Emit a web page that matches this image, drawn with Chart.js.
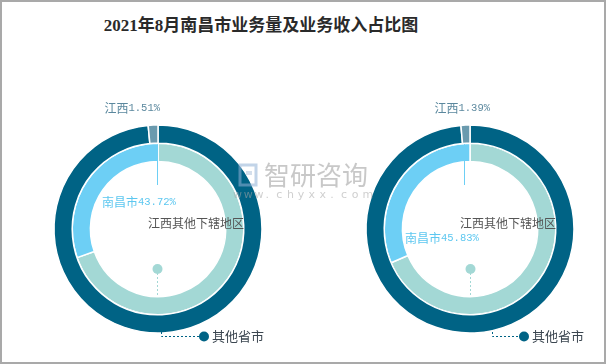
<!DOCTYPE html>
<html>
<head>
<meta charset="utf-8">
<script src="https://cdn.jsdelivr.net/npm/chart.js@4.4.1/dist/chart.umd.min.js"></script>
<style>
    body { margin: 0; background: #fff; }
    #wrap { position: relative; width: 606px; height: 364px; overflow: hidden; background: #fff; }
    #title {
        position: absolute; left: 0; top: 11px; width: 522px; text-align: center;
        font-family: "Liberation Serif", "Noto Sans CJK SC", serif; font-size: 17px; font-weight: bold; color: #2a2a2a;
    }
    canvas { position: absolute; left: 0; top: 0; }
    #frame { position: absolute; left: 0; top: 0; width: 602px; height: 360px; border: 2px solid #a9a9a9; pointer-events: none; }
</style>
</head>
<body>
<div id="wrap">
    <div id="title">2021年8月南昌市业务量及业务收入占比图</div>
    <canvas id="leftChart" width="606" height="364"></canvas>
    <canvas id="rightChart" width="606" height="364"></canvas>
    <div id="frame"></div>
</div>
<script>
// data
const outerLabels = ["其他省市", "江西"];
const innerLabels = ["江西其他下辖地区", "南昌市"];
const outerLeft = [98.49, 1.51];
const innerLeft = [100, 43.72];
const outerRight = [98.61, 1.39];
const innerRight = [100, 45.83];

const outerColors = ["#006385", "#6a9aae"];
const innerColors = ["#a3d8d5", "#6dcff5"];

// label offsets from the donut centre, per chart
const layoutLeft = { jx: 2, nx: -56, ny: -27, lx: -1, nlx: -1, ox: 46, ovx: 3 };
const layoutRight = { jx: 20, nx: -65, ny: 9, lx: 0, nlx: -6, ox: 54, ovx: 22 };

function mixedText(ctx, cjk, num, x, y, align, color) {
    ctx.font = '12px "Noto Sans CJK SC"';
    const w1 = ctx.measureText(cjk).width;
    ctx.font = '10.5px "Liberation Mono"';
    const w2 = ctx.measureText(num).width;
    let start = align === "right" ? x - w1 - w2 : x;
    ctx.fillStyle = color;
    ctx.textBaseline = "middle";
    ctx.textAlign = "left";
    ctx.font = '12px "Noto Sans CJK SC"';
    ctx.fillText(cjk, start, y);
    ctx.font = '10.5px "Liberation Mono"';
    ctx.fillText(num, start + w1, y + 0.5);
}

function dot(ctx, x, y, r, color) {
    ctx.beginPath();
    ctx.arc(x, y, r, 0, Math.PI * 2);
    ctx.fillStyle = color;
    ctx.fill();
}

const ringLabels = {
    id: "ringLabels",
    afterDatasetsDraw(chart, args, opts) {
        const ctx = chart.ctx;
        const L = opts.layout;
        const outer = chart.getDatasetMeta(0).data;
        const inner = chart.getDatasetMeta(1).data;
        const cx = outer[0].x, cy = outer[0].y;
        const rOut = outer[0].outerRadius;
        const rInIn = inner[0].innerRadius;
        const rInOut = inner[0].outerRadius;
        const outerData = chart.data.datasets[0].data;
        const innerData = chart.data.datasets[1].data;
        ctx.save();

        // 江西 small slice
        mixedText(ctx, outerLabels[1], outerData[1].toFixed(2) + "%", cx + L.jx, cy - rOut - 17, "right", "#5b889e");

        // 南昌市
        ctx.strokeStyle = innerColors[1];
        ctx.lineWidth = 1;
        ctx.beginPath();
        ctx.moveTo(cx + L.nlx + 0.5, cy - rInOut + 1);
        ctx.lineTo(cx + L.nlx + 0.5, cy - 44);
        ctx.stroke();
        mixedText(ctx, innerLabels[1], innerData[1].toFixed(2) + "%", cx + L.nx, cy + L.ny, "left", "#5cc7f0");

        // 江西其他下辖地区
        ctx.font = '12px "Noto Sans CJK SC"';
        ctx.fillStyle = "#555";
        ctx.textAlign = "left";
        ctx.fillText(innerLabels[0], cx - 10, cy - 6);
        ctx.setLineDash([2, 2]);
        ctx.strokeStyle = innerColors[0];
        ctx.beginPath();
        ctx.moveTo(cx + L.lx + 0.5, cy + 40);
        ctx.lineTo(cx + L.lx + 0.5, cy + rInIn);
        ctx.stroke();
        dot(ctx, cx + L.lx + 0.5, cy + 40, 5, innerColors[0]);

        // 其他省市
        ctx.strokeStyle = outerColors[0];
        ctx.beginPath();
        ctx.moveTo(cx + L.ovx + 0.5, cy + rOut - 1);
        ctx.lineTo(cx + L.ovx + 0.5, cy + 107.5);
        ctx.lineTo(cx + L.ox, cy + 107.5);
        ctx.stroke();
        ctx.setLineDash([]);
        dot(ctx, cx + L.ox, cy + 107.5, 5, outerColors[0]);
        ctx.font = '13px "Noto Sans CJK SC"';
        ctx.fillStyle = "#3b4650";
        ctx.textBaseline = "middle";
        ctx.fillText(outerLabels[0], cx + L.ox + 8, cy + 107.5);
        ctx.restore();
    }
};

const watermark = {
    id: "watermark",
    afterDraw(chart) {
        const ctx = chart.ctx;
        ctx.save();
        ctx.globalAlpha = 0.55;
        ctx.strokeStyle = "#8fb0d6";
        ctx.lineWidth = 3;
        ctx.strokeRect(240, 165, 16, 20);
        ctx.fillStyle = "#b0c4dc";
        ctx.fillRect(246, 171, 6, 4);
        ctx.font = '26px "Noto Sans CJK SC"';
        ctx.fillStyle = "#9a9a9a";
        ctx.textBaseline = "middle";
        ctx.fillText("智研咨询", 264, 175);
        ctx.font = '11px "DejaVu Sans"';
        ctx.fillStyle = "#a8a8a8";
        const site = "www.chyxx.com";
        for (let i = 0; i < site.length; i++) {
            ctx.fillText(site[i], 233 + i * 10.8, 195);
        }
        ctx.restore();
    }
};

function makeChart(id, outerData, innerData, padding, layout, extra) {
    return new Chart(document.getElementById(id).getContext("2d"), {
        type: "doughnut",
        data: {
            labels: outerLabels,
            datasets: [
                { data: outerData, backgroundColor: outerColors, borderColor: "#fff", borderWidth: 1.5 },
                { data: innerData, backgroundColor: innerColors, borderColor: "#fff", borderWidth: 1.5 }
            ]
        },
        options: {
            responsive: false,
            animation: false,
            radius: 104,
            cutout: "65%",
            layout: { padding: padding },
            plugins: {
                legend: { display: false },
                tooltip: { enabled: false },
                ringLabels: { layout: layout }
            }
        },
        plugins: extra ? [ringLabels, watermark] : [ringLabels]
    });
}

makeChart("leftChart", outerLeft, innerLeft, { left: 0, right: 290, top: 94, bottom: 0 }, layoutLeft, false);
makeChart("rightChart", outerRight, innerRight, { left: 334, right: 0, top: 94, bottom: 0 }, layoutRight, true);
</script>
</body>
</html>
